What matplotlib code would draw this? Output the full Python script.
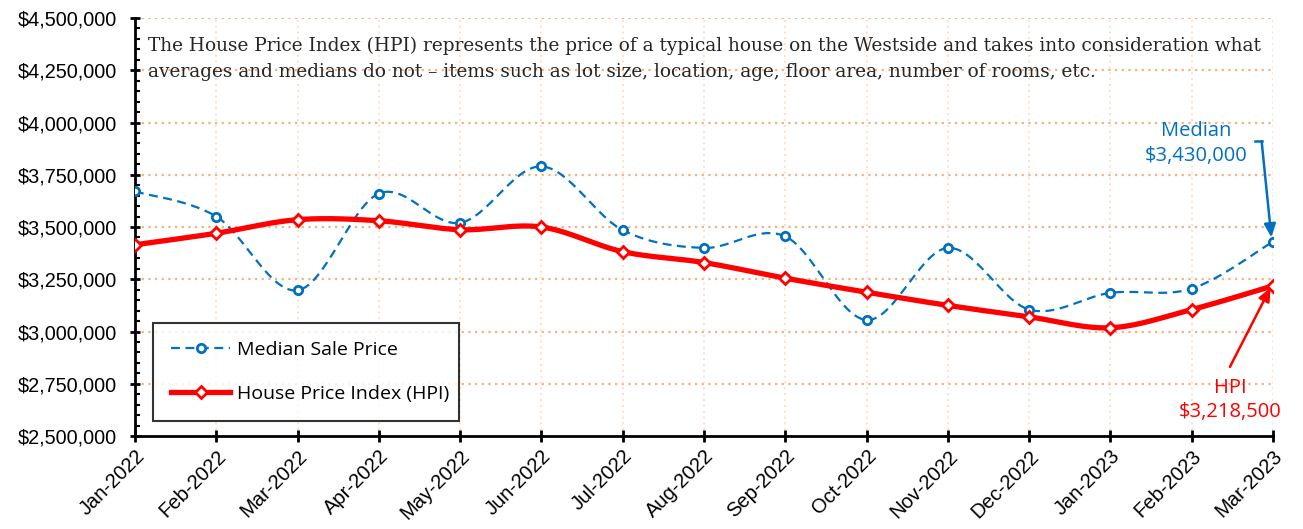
import numpy as np
import matplotlib
matplotlib.use("Agg")
import matplotlib.pyplot as plt
from matplotlib.ticker import FuncFormatter, MultipleLocator

months = ["Jan-2022", "Feb-2022", "Mar-2022", "Apr-2022", "May-2022", "Jun-2022",
          "Jul-2022", "Aug-2022", "Sep-2022", "Oct-2022", "Nov-2022", "Dec-2022",
          "Jan-2023", "Feb-2023", "Mar-2023"]
median_price = [3670000, 3550000, 3197000, 3660000, 3520000, 3790000, 3485000, 3400000,
                3455000, 3055000, 3400000, 3105000, 3185000, 3205000, 3430000]
hpi = [3415000, 3470000, 3535000, 3530000, 3487000, 3500000, 3382000, 3330000,
       3255000, 3188000, 3125000, 3070000, 3018000, 3105000, 3218500]

BLUE = "#0070C0"
RED = "#FF0000"

fig = plt.figure(figsize=(13.03, 5.29), dpi=100)
ax = fig.add_axes([135/1303, 1-436/529, (1273-135)/1303, (436-18)/529])

def smooth(xs, ys, n=30):
    # Bezier smoothing (Catmull-Rom style) in approximate pixel space
    sx, sy = 81.3, 209e-6
    P = np.column_stack([np.asarray(xs, float)*sx, np.asarray(ys, float)*sy])
    out = [P[0]]
    for i in range(len(P)-1):
        p0 = P[i-1] if i > 0 else P[i]
        p1, p2 = P[i], P[i+1]
        p3 = P[i+2] if i+2 < len(P) else P[i+1]
        c1 = p1 + (p2-p0)/6
        c2 = p2 - (p3-p1)/6
        t = np.linspace(0, 1, n)[1:, None]
        pts = (1-t)**3*p1 + 3*(1-t)**2*t*c1 + 3*(1-t)*t**2*c2 + t**3*p2
        out.extend(pts)
    out = np.array(out)
    return out[:, 0]/sx, out[:, 1]/sy

x = np.arange(len(months))

# grid
for yv in np.arange(2750000, 4500001, 250000):
    ax.axhline(yv, color="#F4B183", lw=1.6, ls=(0, (1, 2)), zorder=0)
for xv in x[1:]:
    ax.axvline(xv, color="#FBE0CC", lw=1.4, ls=(0, (1, 2)), zorder=0)

mx, my = smooth(x, median_price)
hx, hy = smooth(x, hpi)
ax.plot(mx, my, color=BLUE, lw=1.6, ls=(0, (4, 2.5)), zorder=3)
ax.plot(hx, hy, color=RED, lw=3.8, zorder=4, solid_capstyle="round")
ax.plot(x, median_price, ls="none", marker="o", ms=6, mfc="white", mec=BLUE, mew=2, zorder=5)
ax.plot(x, hpi, ls="none", marker="D", ms=6, mfc="white", mec=RED, mew=2, zorder=6)

# legend proxies
lh1, = ax.plot([], [], color=BLUE, lw=1.6, ls=(0, (4, 2.5)), marker="o", ms=6, mfc="white", mec=BLUE, mew=2)
lh2, = ax.plot([], [], color=RED, lw=3.8, marker="D", ms=6, mfc="white", mec=RED, mew=2)
leg = ax.legend([lh1, lh2], ["Median Sale Price", "House Price Index (HPI)"],
                loc="lower left", bbox_to_anchor=(18/1138, 15/418, 306/1138, 97/418),
                mode="expand", fancybox=False, frameon=True, edgecolor="black",
                prop={"family": "Open Sans", "size": 14}, handlelength=3.0,
                labelspacing=1.3, borderpad=0.95, handletextpad=0.35, borderaxespad=0)
leg.get_frame().set_linewidth(1.5)
leg.set_zorder(10)

ax.set_xlim(0, len(months)-1)
ax.set_ylim(2500000, 4500000)
ax.yaxis.set_major_locator(MultipleLocator(250000))
ax.yaxis.set_minor_locator(MultipleLocator(50000))
ax.yaxis.set_major_formatter(FuncFormatter(lambda v, p: "${:,.0f}".format(v)))
ax.set_xticks(x)
ax.set_xticklabels(months, rotation=45, ha="right", va="top", rotation_mode="anchor",
                   family="Liberation Sans", fontsize=14.5)
for lab in ax.get_yticklabels():
    lab.set_family("Liberation Sans")
    lab.set_fontsize(14.3)
ax.tick_params(axis="y", which="major", direction="inout", length=7, width=2, pad=9.4)
ax.tick_params(axis="y", which="minor", direction="in", length=3.5, width=1.5)
ax.tick_params(axis="x", which="major", direction="inout", length=9, width=2, pad=3)
for s in ["top", "right"]:
    ax.spines[s].set_visible(False)
for s in ["left", "bottom"]:
    ax.spines[s].set_linewidth(2)

ax.text(13/1138, 1-19/418,
        "The House Price Index (HPI) represents the price of a typical house on the Westside and takes into consideration what\n"
        "averages and medians do not \u2013 items such as lot size, location, age, floor area, number of rooms, etc.",
        transform=ax.transAxes, ha="left", va="top", family="DejaVu Serif", fontsize=13.3,
        color="#262626", linespacing=1.55, zorder=11)

# annotations
ax.text(13.05, 3900000, "Median\n$3,430,000", color=BLUE, ha="center", va="center",
        family="Open Sans", fontsize=14.5, linespacing=1.3)
ax.plot([13.78, 13.86], [3911000, 3911000], color=BLUE, lw=1.8, zorder=7)
ax.annotate("", xy=(13.98, 3450000), xytext=(13.86, 3911000),
            arrowprops=dict(arrowstyle="-|>,head_length=0.8,head_width=0.35", color=BLUE, lw=1.8,
                            shrinkA=0, shrinkB=0), zorder=7)
ax.text(13.47, 2672000, "HPI\n$3,218,500", color=RED, ha="center", va="center",
        family="Open Sans", fontsize=14.5, linespacing=1.3)
ax.annotate("", xy=(13.97, 3210000), xytext=(13.47, 2831000),
            arrowprops=dict(arrowstyle="-|>,head_length=0.8,head_width=0.35", color=RED, lw=1.8,
                            shrinkA=0, shrinkB=0), zorder=7)

fig.savefig("out.png", dpi=100)
